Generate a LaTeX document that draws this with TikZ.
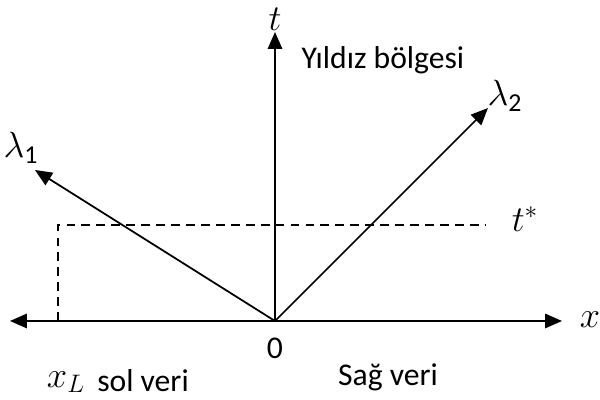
\documentclass[tikz,border=0pt]{standalone}
\usepackage{fontspec}
\setmainfont{Carlito}
\usetikzlibrary{arrows.meta,positioning}
\tikzset{
    axisline/.style={line width=1pt, -{Triangle[length=3.4mm, width=2.9mm]}},
    guide/.style={dash pattern=on 5pt off 3.5pt, line width=0.8pt},
    lbl/.style={font=\fontsize{18}{20}\selectfont},
    mlbl/.style={font=\fontsize{21}{23}\selectfont}
}
\begin{document}
\begin{tikzpicture}
    \useasboundingbox (0,0) rectangle (12,8);

    % Origin and arrow tips
    \coordinate (O) at (5.5,1.58);
    \coordinate (xl) at (0.2,1.58);
    \coordinate (xr) at (11.24,1.58);
    \coordinate (tt) at (5.5,7.36);
    \coordinate (l1) at (0.7,4.6);
    \coordinate (l2) at (9.76,5.84);
    \coordinate (dl) at (1.16,3.5);
    \coordinate (dr) at (9.72,3.5);
    \coordinate (db) at (1.16,1.58);

    % Axes
    \draw[axisline] (O) -- (xl);
    \draw[axisline] (O) -- (xr);
    \draw[axisline] (O) -- (tt);

    % Characteristics
    \draw[axisline] (O) -- (l1);
    \draw[axisline] (O) -- (l2);

    % t* level
    \draw[guide] (db) -- (dl) -- (dr);

    % Labels
    \node[mlbl, inner sep=0pt] (tlab) at (5.5,7.62) {$t$};
    \node[mlbl] (xlab) at (11.8,1.6) {$x$};
    \node[mlbl] (l1lab) at (0.42,5.04) {$\lambda_{\mathrm{1}}$};
    \node[mlbl] (l2lab) at (10.1,6.08) {$\lambda_{\mathrm{2}}$};
    \node[mlbl] (tslab) at (10.5,3.62) {$t^{*}$};
    \node[lbl] (zero) at (5.5,1.04) {0};
    \node[lbl] (star) at (7.66,6.8) {Yıldız bölgesi};
    \node[mlbl] (xL) at (1.32,0.36) {$x_L$};
    \node[lbl] (left) at (2.86,0.38) {sol veri};
    \node[lbl] (right) at (7.76,0.46) {Sağ veri};
\end{tikzpicture}
\end{document}
